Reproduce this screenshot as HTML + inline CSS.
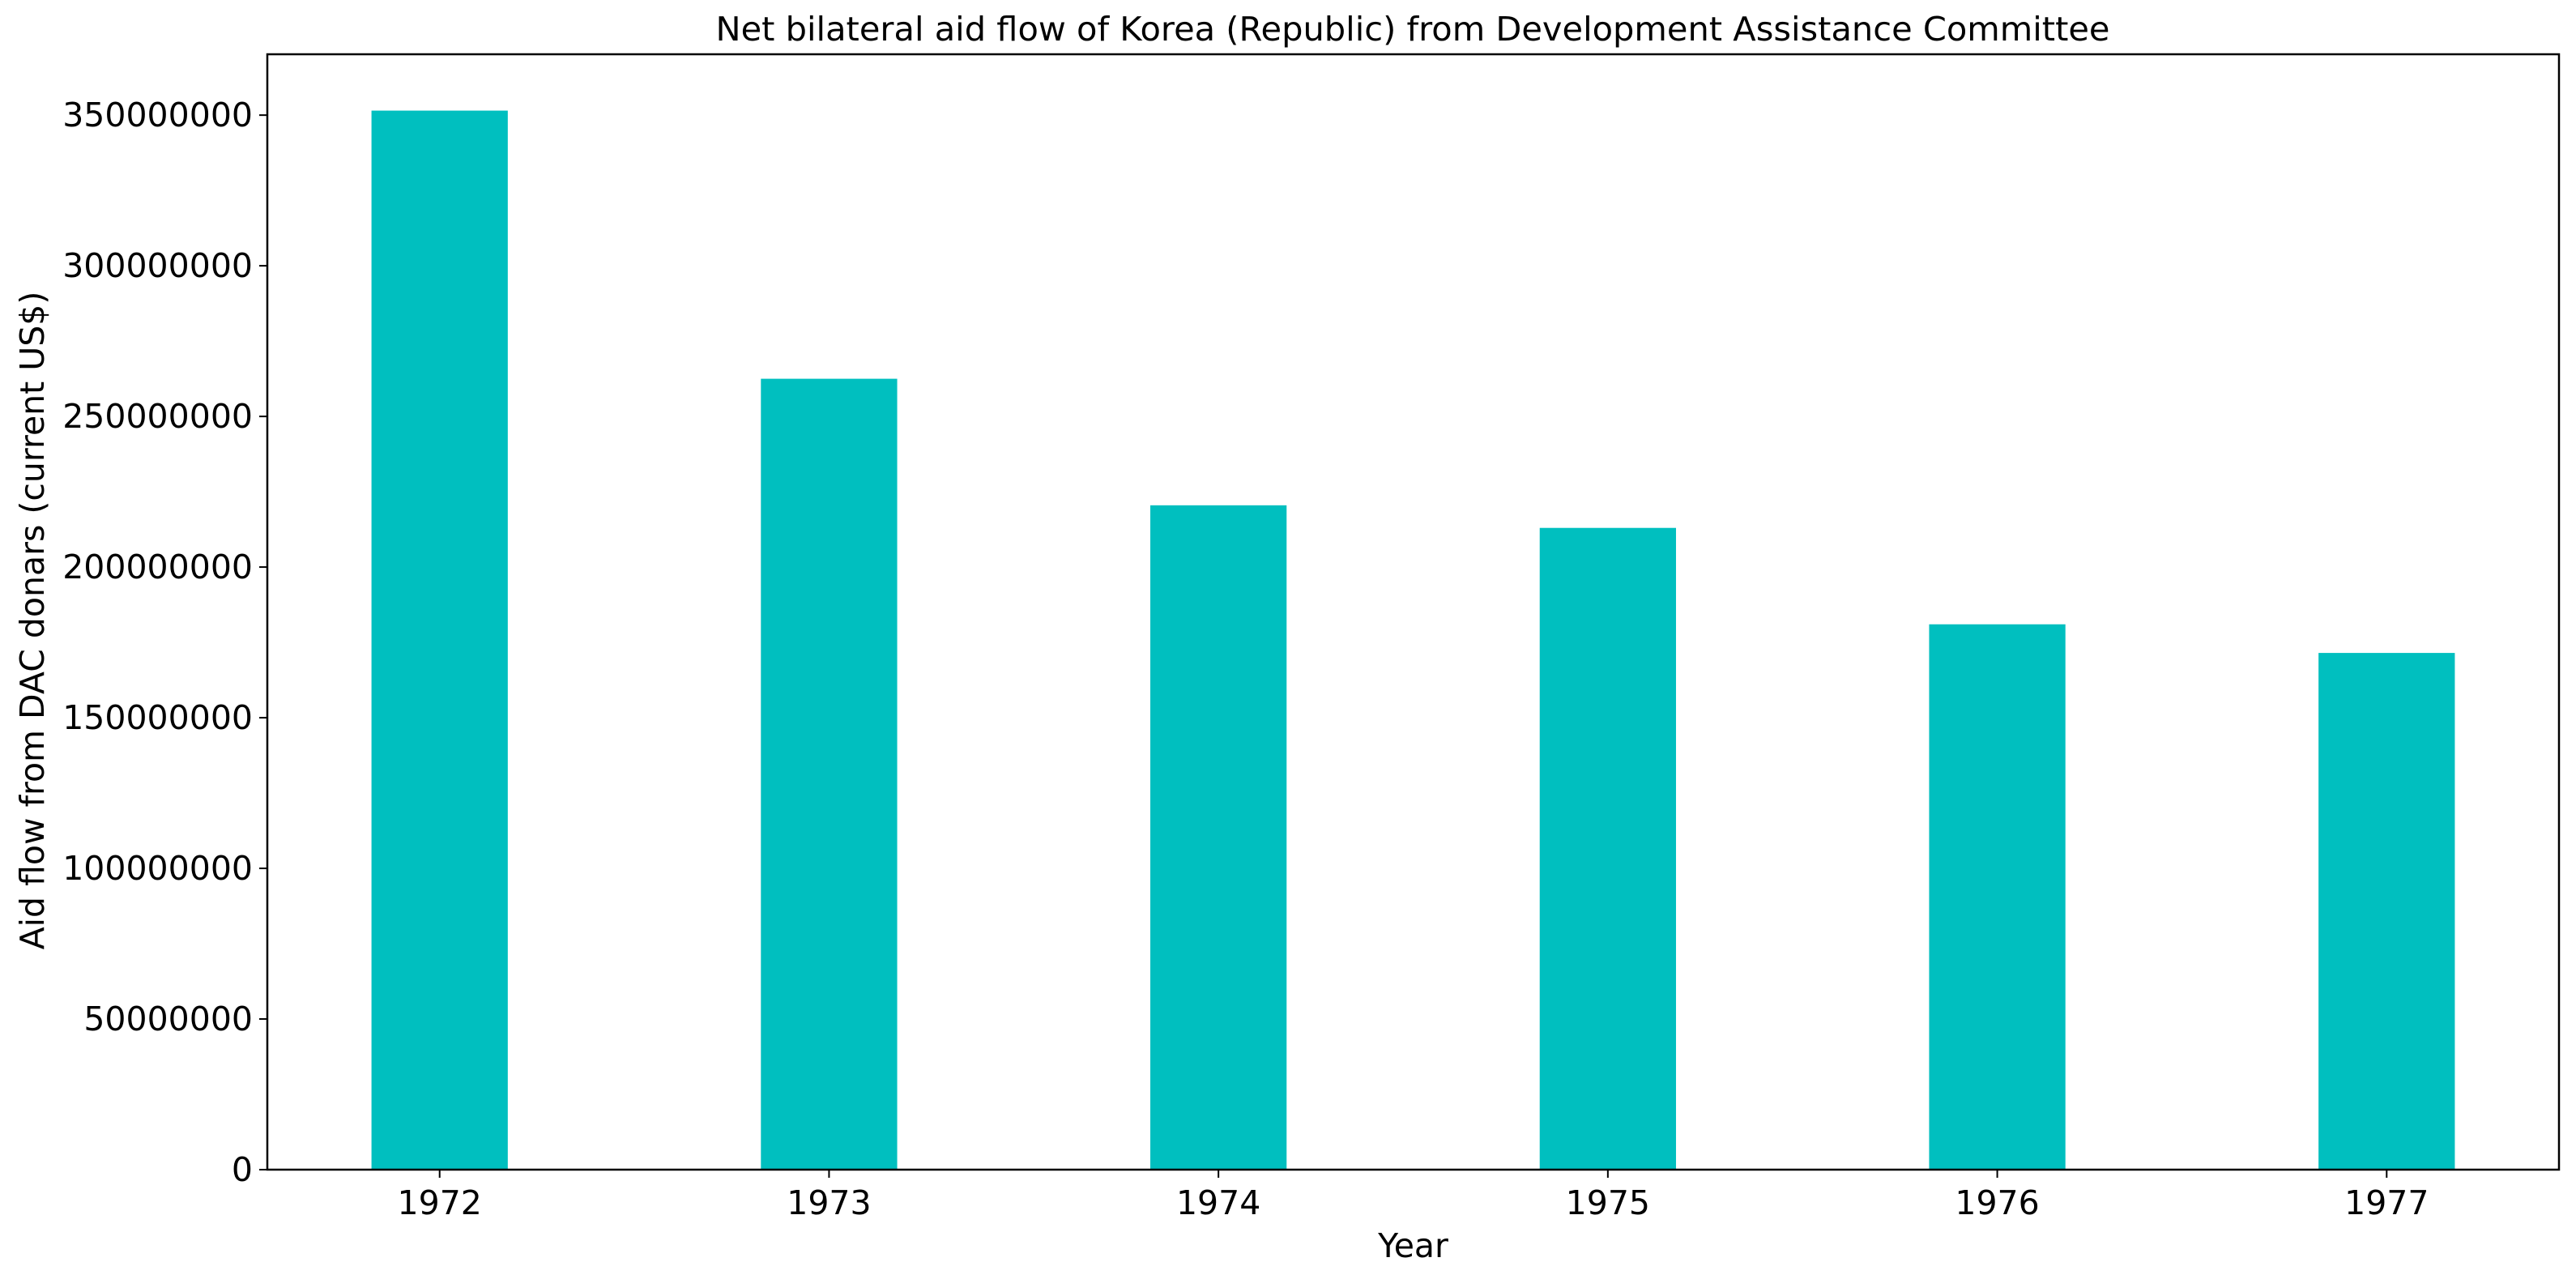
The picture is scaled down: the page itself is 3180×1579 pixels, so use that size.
<!DOCTYPE html>
<html><head><meta charset="utf-8"><style>
html,body{margin:0;padding:0;background:#fff;}
svg{display:block;font-family:"DejaVu Sans","Liberation Sans",sans-serif;}
</style></head><body>
<svg id="chart" width="3180" height="1579" viewBox="0 0 3180 1579" xmlns="http://www.w3.org/2000/svg">
<rect width="3180" height="1579" fill="#fff"/>
<text x="1744" y="50" font-size="41" text-anchor="middle" textLength="1721" lengthAdjust="spacingAndGlyphs">Net bilateral aid flow of Korea (Republic) from Development Assistance Committee</text>
<g id="bars"></g>
<g id="yticks"></g>
<g id="xticks"></g>
<rect x="330" y="67" width="2829" height="1377" fill="none" stroke="#000" stroke-width="2.5"/>
<text x="1744.5" y="1552" font-size="41" text-anchor="middle">Year</text>
<text transform="translate(54,766) rotate(-90)" font-size="41" text-anchor="middle">Aid flow from DAC donars (current US$)</text>
</svg>
<script>
const categories = ["1972","1973","1974","1975","1976","1977"];
const values = [351500000, 262500000, 220500000, 213000000, 181000000, 171500000];
const yTickValues = [0,50000000,100000000,150000000,200000000,250000000,300000000,350000000];
const yTickLabels = ["0","50000000","100000000","150000000","200000000","250000000","300000000","350000000"];

const NS = "http://www.w3.org/2000/svg";
const L = 330, R = 3159, T = 67, B = 1444;
const yMax = 370200000;
const xMin = -0.4425, xMax = 5.4425, barW = 0.35;
function xScale(v){ return L + (v - xMin) / (xMax - xMin) * (R - L); }
function yScale(v){ return B - v / yMax * (B - T); }

const gb = document.getElementById('bars');
values.forEach((v,i)=>{
  const r = document.createElementNS(NS,'rect');
  r.setAttribute('x', xScale(i - barW/2));
  r.setAttribute('width', xScale(i + barW/2) - xScale(i - barW/2));
  r.setAttribute('y', yScale(v));
  r.setAttribute('height', yScale(0) - yScale(v));
  r.setAttribute('fill', '#00bfbf');
  
  
  gb.appendChild(r);
});

const gy = document.getElementById('yticks');
yTickValues.forEach((v,i)=>{
  const y = yScale(v);
  const ln = document.createElementNS(NS,'line');
  ln.setAttribute('x1', L - 10); ln.setAttribute('x2', L);
  ln.setAttribute('y1', y); ln.setAttribute('y2', y);
  ln.setAttribute('stroke', '#000'); ln.setAttribute('stroke-width', '2');
  
  
  gy.appendChild(ln);
  const t = document.createElementNS(NS,'text');
  t.setAttribute('x', L - 18); t.setAttribute('y', y + 14);
  t.setAttribute('font-size', '41'); t.setAttribute('text-anchor', 'end');
  t.textContent = yTickLabels[i];
  
  
  gy.appendChild(t);
});

const gx = document.getElementById('xticks');
categories.forEach((c,i)=>{
  const x = xScale(i);
  const ln = document.createElementNS(NS,'line');
  ln.setAttribute('x1', x); ln.setAttribute('x2', x);
  ln.setAttribute('y1', B); ln.setAttribute('y2', B + 10);
  ln.setAttribute('stroke', '#000'); ln.setAttribute('stroke-width', '2');
  
  
  gx.appendChild(ln);
  const t = document.createElementNS(NS,'text');
  t.setAttribute('x', x); t.setAttribute('y', B + 55);
  t.setAttribute('font-size', '41'); t.setAttribute('text-anchor', 'middle');
  t.textContent = c;
  
  
  gx.appendChild(t);
});
</script>
</body></html>
